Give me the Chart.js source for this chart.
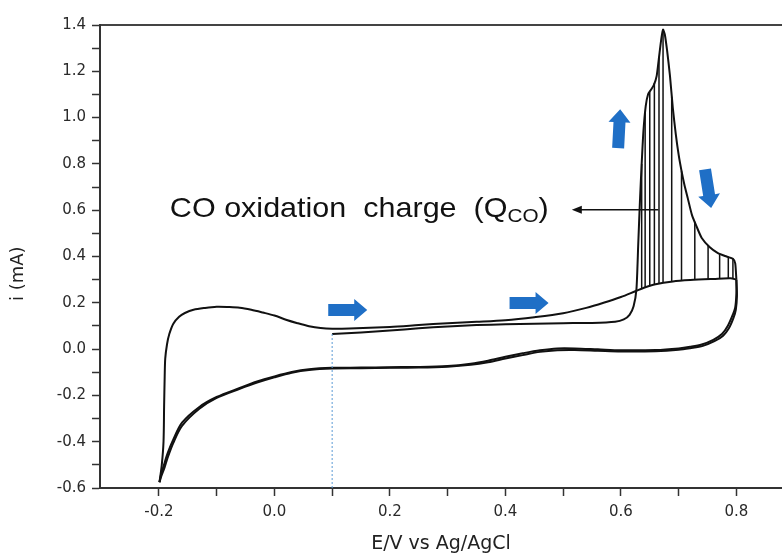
<!DOCTYPE html>
<html>
<head>
<meta charset="utf-8">
<script src="https://cdn.jsdelivr.net/npm/chart.js@4.4.1/dist/chart.umd.min.js"></script>
<style>
  html, body { margin: 0; padding: 0; background: #fff; overflow: hidden; }
</style>
</head>
<body>
<canvas id="cv" width="782" height="555"></canvas>
<script>
// CO stripping sweep (first anodic scan, starts at 0.1 V)
const coE = [0.100, 0.150, 0.200, 0.250, 0.300, 0.350, 0.400, 0.450, 0.500, 0.550, 0.590, 0.605, 0.615, 0.622,
  0.627, 0.630, 0.633, 0.636, 0.639, 0.643, 0.647, 0.652, 0.657, 0.662, 0.666, 0.670, 0.673, 0.676, 0.680,
  0.685, 0.690, 0.695, 0.700, 0.705, 0.710, 0.716, 0.723, 0.731, 0.740, 0.754, 0.768, 0.783, 0.794, 0.798, 0.800];
const coI = [0.065, 0.072, 0.080, 0.090, 0.098, 0.104, 0.107, 0.110, 0.112, 0.113, 0.118, 0.128, 0.148, 0.185,
  0.260, 0.450, 0.640, 0.800, 0.940, 1.050, 1.100, 1.120, 1.140, 1.180, 1.260, 1.340, 1.380, 1.360, 1.290,
  1.180, 1.040, 0.930, 0.840, 0.770, 0.710, 0.650, 0.580, 0.530, 0.480, 0.440, 0.415, 0.400, 0.390, 0.370, 0.300];

// first cathodic scan
const rev1E = [0.800, 0.800, 0.798, 0.794, 0.785, 0.775, 0.760, 0.740, 0.720, 0.700, 0.660, 0.600, 0.560, 0.520,
  0.490, 0.460, 0.430, 0.400, 0.370, 0.340, 0.300, 0.250, 0.200, 0.150, 0.100, 0.060, 0.030, 0.000, -0.030,
  -0.060, -0.100, -0.130, -0.160, -0.175, -0.185, -0.190, -0.196, -0.199];
const rev1I = [0.300, 0.240, 0.180, 0.150, 0.100, 0.065, 0.040, 0.020, 0.010, 0.003, -0.004, -0.005, -0.001, 0.003,
  0.003, -0.005, -0.018, -0.033, -0.050, -0.063, -0.073, -0.077, -0.078, -0.080, -0.081, -0.087, -0.099, -0.118, -0.140,
  -0.168, -0.207, -0.250, -0.318, -0.390, -0.450, -0.490, -0.540, -0.575];

// second anodic scan (CO-free surface)
const c2E = [-0.199, -0.195, -0.192, -0.191, -0.190, -0.189, -0.186, -0.182, -0.175, -0.165, -0.155, -0.140, -0.120,
  -0.100, -0.080, -0.060, -0.040, -0.020, 0.000, 0.020, 0.040, 0.060, 0.080, 0.100, 0.130, 0.200, 0.250, 0.300,
  0.350, 0.400, 0.450, 0.500, 0.540, 0.570, 0.600, 0.625, 0.640, 0.660, 0.690, 0.720, 0.760, 0.790, 0.800];
const c2I = [-0.575, -0.500, -0.400, -0.250, -0.120, -0.040, 0.020, 0.065, 0.110, 0.140, 0.156, 0.170, 0.178,
  0.183, 0.182, 0.179, 0.170, 0.158, 0.145, 0.127, 0.112, 0.099, 0.091, 0.088, 0.089, 0.096, 0.104, 0.112,
  0.118, 0.125, 0.138, 0.155, 0.178, 0.200, 0.225, 0.250, 0.265, 0.280, 0.292, 0.298, 0.303, 0.306, 0.300];

// second cathodic scan
const rev2E = [0.800, 0.801, 0.799, 0.795, 0.787, 0.777, 0.762, 0.742, 0.720, 0.700, 0.660, 0.600, 0.560, 0.520,
  0.490, 0.460, 0.430, 0.400, 0.370, 0.340, 0.300, 0.250, 0.200, 0.150, 0.100, 0.060, 0.030, 0.000, -0.030,
  -0.060, -0.100, -0.130, -0.160, -0.175, -0.185, -0.190, -0.196, -0.199];
const rev2I = [0.300, 0.230, 0.170, 0.135, 0.090, 0.058, 0.034, 0.014, 0.004, -0.003, -0.009, -0.010, -0.007, -0.004,
  -0.005, -0.012, -0.026, -0.041, -0.057, -0.068, -0.076, -0.080, -0.081, -0.083, -0.084, -0.090, -0.102, -0.122, -0.145,
  -0.172, -0.211, -0.258, -0.332, -0.405, -0.470, -0.510, -0.550, -0.575];

// hatching of the CO oxidation charge
const hatchE = [0.636, 0.642, 0.650, 0.658, 0.666, 0.673, 0.688, 0.705, 0.728, 0.751, 0.771, 0.786, 0.794];
const hatchTop = [0.80, 1.02, 1.11, 1.15, 1.26, 1.38, 1.09, 0.77, 0.55, 0.45, 0.41, 0.40, 0.39];
const hatchBottom = [0.261, 0.267, 0.272, 0.279, 0.282, 0.286, 0.291, 0.295, 0.299, 0.302, 0.304, 0.305, 0.305];

// start potential marker
const startE = [0.1, 0.1];
const startI = [-0.6, 0.065];

// axes
const xTickValues = [-0.2, -0.1, 0.0, 0.1, 0.2, 0.3, 0.4, 0.5, 0.6, 0.7, 0.8];
const xLabelValues = [-0.2, 0.0, 0.2, 0.4, 0.6, 0.8];
const yTickValues = [-0.6, -0.5, -0.4, -0.3, -0.2, -0.1, 0.0, 0.1, 0.2, 0.3, 0.4, 0.5, 0.6, 0.7, 0.8, 0.9, 1.0,
  1.1, 1.2, 1.3, 1.4];
const yLabelValues = [-0.6, -0.4, -0.2, 0.0, 0.2, 0.4, 0.6, 0.8, 1.0, 1.2, 1.4];

// annotations
const labelMain = "CO oxidation  charge  (Q";
const labelSub = "CO";
const labelEnd = ")";
const labelE = -0.181, labelI = 0.571;
const calloutE = [0.665, 0.515], calloutI = 0.602;
const arrowE = [0.127, 0.441, 0.597, 0.751];
const arrowI = [0.169, 0.199, 0.952, 0.693];
const arrowAngle = [0, 0, -87, 81];

const zip = (xs, ys) => xs.map((v, i) => ({ x: v, y: ys[i] }));
const hatchPoints = [];
hatchE.forEach((e, i) => {
    hatchPoints.push({ x: e, y: hatchBottom[i] }, { x: e, y: hatchTop[i] }, { x: e, y: null });
});
const near = (list, v) => list.some(l => Math.abs(l - v) < 1e-6);

function curve(pts, tension) {
    return { data: pts, showLine: true, borderColor: "#111", borderWidth: 2, pointRadius: 0, tension: tension, fill: false };
}

const overlay = {
    id: "overlay",
    afterDatasetsDraw(chart) {
        const { ctx, scales: { x, y } } = chart;
        ctx.save();

        // label
        const font = '"Liberation Sans", Arial, sans-serif';
        ctx.fillStyle = "#111";
        ctx.textBaseline = "alphabetic";
        ctx.translate(x.getPixelForValue(labelE), y.getPixelForValue(labelI));
        ctx.scale(1.09, 1);
        ctx.font = "28px " + font;
        let tx = 0;
        ctx.fillText(labelMain, tx, 0);
        tx += ctx.measureText(labelMain).width;
        ctx.font = "19px " + font;
        ctx.fillText(labelSub, tx, 5);
        tx += ctx.measureText(labelSub).width;
        ctx.font = "28px " + font;
        ctx.fillText(labelEnd, tx, 0);
        ctx.setTransform(1, 0, 0, 1, 0, 0);

        // callout arrow
        const x1 = x.getPixelForValue(calloutE[0]), x2 = x.getPixelForValue(calloutE[1]);
        const cy = y.getPixelForValue(calloutI);
        ctx.strokeStyle = "#111";
        ctx.lineWidth = 1.5;
        ctx.beginPath();
        ctx.moveTo(x1, cy);
        ctx.lineTo(x2 + 6, cy);
        ctx.stroke();
        ctx.beginPath();
        ctx.moveTo(x2, cy);
        ctx.lineTo(x2 + 10, cy - 4);
        ctx.lineTo(x2 + 10, cy + 4);
        ctx.closePath();
        ctx.fill();

        // blue scan direction arrows
        ctx.fillStyle = "#1f6fc6";
        arrowE.forEach((e, i) => {
            ctx.save();
            ctx.translate(x.getPixelForValue(e), y.getPixelForValue(arrowI[i]));
            ctx.rotate(arrowAngle[i] * Math.PI / 180);
            const L = 39, h = 6, H = 11, hl = 13;
            ctx.beginPath();
            ctx.moveTo(-L / 2, -h);
            ctx.lineTo(L / 2 - hl, -h);
            ctx.lineTo(L / 2 - hl, -H);
            ctx.lineTo(L / 2, 0);
            ctx.lineTo(L / 2 - hl, H);
            ctx.lineTo(L / 2 - hl, h);
            ctx.lineTo(-L / 2, h);
            ctx.closePath();
            ctx.fill();
            ctx.restore();
        });
        ctx.restore();
    }
};

const tickFont = { family: '"DejaVu Sans", sans-serif', size: 15 };

new Chart(document.getElementById("cv"), {
    type: "scatter",
    data: {
        datasets: [
            { data: zip(startE, startI), showLine: true, borderColor: "#5b9bd5", borderWidth: 1, borderDash: [2, 2], pointRadius: 0 },
            { data: hatchPoints, showLine: true, borderColor: "#111", borderWidth: 1.5, pointRadius: 0, spanGaps: false },
            curve(zip(rev2E, rev2I), 0.3),
            curve(zip(rev1E, rev1I), 0.3),
            curve(zip(c2E, c2I), 0.3),
            curve(zip(coE, coI), 0.2)
        ]
    },
    options: {
        responsive: false,
        animation: false,
        layout: { padding: 0 },
        plugins: { legend: { display: false }, tooltip: { enabled: false } },
        scales: {
            x: {
                type: "linear",
                position: "bottom",
                min: -0.302,
                max: 0.879,
                afterBuildTicks: s => { s.ticks = xTickValues.map(v => ({ value: v })); },
                afterFit: s => { s.height = 67; },
                ticks: {
                    color: "#2a2a2a",
                    font: tickFont,
                    padding: 7,
                    maxRotation: 0,
                    autoSkip: false,
                    callback: v => near(xLabelValues, v) ? v.toFixed(1) : ""
                },
                grid: { drawOnChartArea: false, drawTicks: true, tickLength: 8, tickColor: "#333", tickWidth: 1.5 },
                border: { display: true, color: "#333", width: 2 },
                title: {
                    display: true,
                    text: "E/V vs Ag/AgCl",
                    color: "#222",
                    font: { family: '"DejaVu Sans", sans-serif', size: 19 },
                    padding: { top: 4, bottom: 0 }
                }
            },
            x2: {
                type: "linear",
                position: "top",
                min: -0.302,
                max: 0.879,
                afterFit: s => { s.height = 25; },
                ticks: { display: false },
                grid: { display: false, drawTicks: false },
                border: { display: true, color: "#444", width: 2 }
            },
            y: {
                type: "linear",
                position: "left",
                min: -0.6,
                max: 1.4,
                afterBuildTicks: s => { s.ticks = yTickValues.map(v => ({ value: v })); },
                afterFit: s => { s.width = 100; },
                ticks: {
                    color: "#2a2a2a",
                    font: tickFont,
                    padding: 6,
                    autoSkip: false,
                    callback: v => near(yLabelValues, v) ? v.toFixed(1) : ""
                },
                grid: { drawOnChartArea: false, drawTicks: true, tickLength: 8, tickColor: "#333", tickWidth: 1.5 },
                border: { display: true, color: "#333", width: 2 },
                title: {
                    display: true,
                    text: "i (mA)      ",
                    color: "#222",
                    font: { family: '"DejaVu Sans", sans-serif', size: 18 },
                    padding: { top: 8, bottom: 0 }
                }
            }
        }
    },
    plugins: [overlay]
});
</script>
</body>
</html>
